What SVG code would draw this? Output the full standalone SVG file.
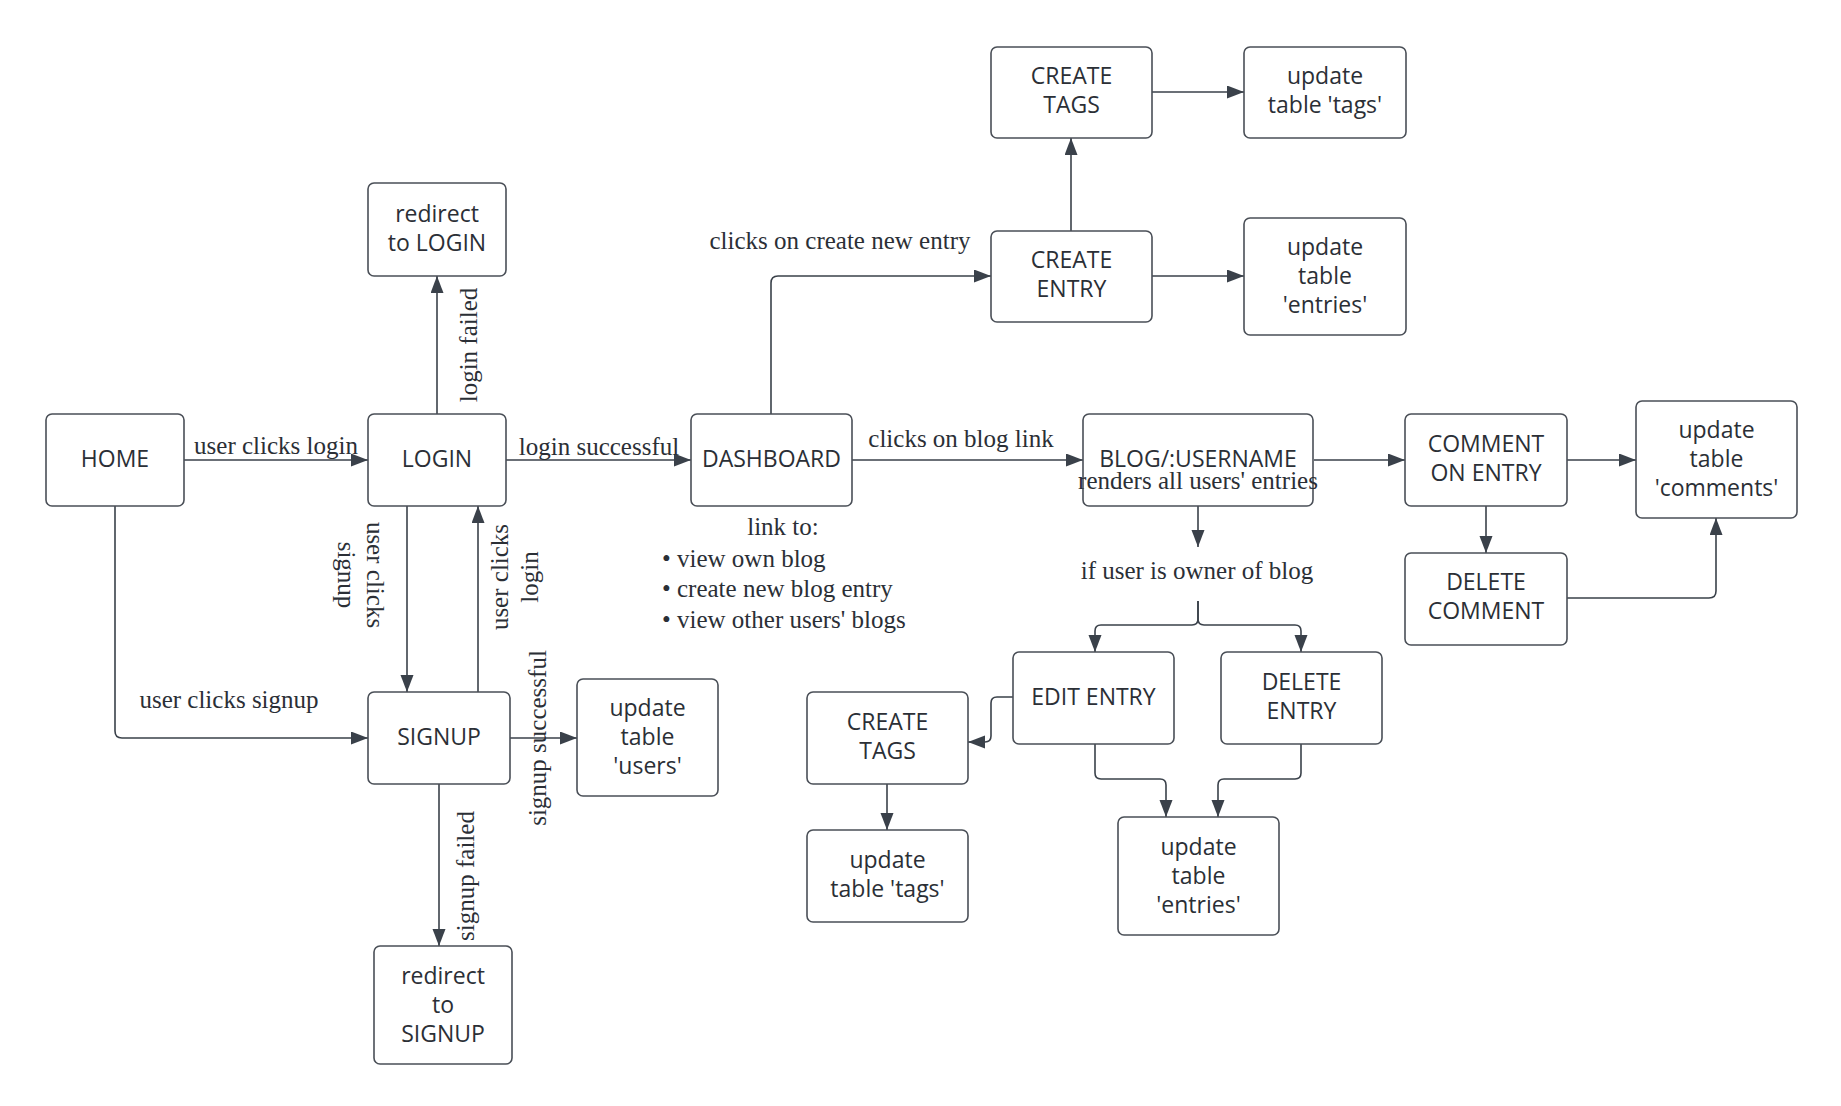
<svg xmlns="http://www.w3.org/2000/svg" width="1841" height="1106" viewBox="0 0 1841 1106">
<style>
.box{fill:#ffffff;stroke:#4a4f57;stroke-width:1.6}
.nt{font-family:"Open Sans","Noto Sans",sans-serif;font-size:23px;fill:#2b2f36;text-anchor:middle}
.lb{font-family:"Liberation Serif","Times New Roman",serif;font-size:25px;fill:#2b2f36}
.mid{text-anchor:middle}
.ln{fill:none;stroke:#3a414a;stroke-width:1.6}
.ar{marker-end:url(#ah)}
</style>
<defs>
<marker id="ah" markerUnits="userSpaceOnUse" markerWidth="18" markerHeight="14" refX="17" refY="6.5" orient="auto">
<path d="M0,0 L17,6.5 L0,13 z" fill="#3a414a"/>
</marker>
</defs>
<rect width="1841" height="1106" fill="#ffffff"/>

<g id="connectors">
<path class="ln ar" d="M184,460 H368"/>
<path class="ln ar" d="M437,414 V276"/>
<path class="ln ar" d="M506,460 H691"/>
<path class="ln ar" d="M407,506 V692"/>
<path class="ln ar" d="M478,692 V506"/>
<path class="ln ar" d="M115,506 V731 Q115,738 122,738 H368"/>
<path class="ln ar" d="M510,738 H577"/>
<path class="ln ar" d="M439,784 V946"/>
<path class="ln ar" d="M852,460 H1083"/>
<path class="ln ar" d="M771,414 V283 Q771,276 778,276 H991"/>
<path class="ln ar" d="M1071,231 V138"/>
<path class="ln ar" d="M1152,92 H1244"/>
<path class="ln ar" d="M1152,276 H1244"/>
<path class="ln ar" d="M1314,460 H1405"/>
<path class="ln ar" d="M1567,460 H1636"/>
<path class="ln ar" d="M1486,506 V553"/>
<path class="ln ar" d="M1567,598 H1709 Q1716,598 1716,591 V518"/>
<path class="ln ar" d="M1198,506 V547"/>
<path class="ln ar" d="M1198,601 V619 Q1198,625 1192,625 H1101 Q1095,625 1095,631 V652"/>
<path class="ln ar" d="M1198,601 V619 Q1198,625 1204,625 H1295 Q1301,625 1301,631 V652"/>
<path class="ln ar" d="M1013,697 H997 Q991,697 991,703 V736 Q991,742 985,742 H968"/>
<path class="ln ar" d="M887,784 V830"/>
<path class="ln ar" d="M1095,744 V773 Q1095,779 1101,779 H1160 Q1166,779 1166,785 V817"/>
<path class="ln ar" d="M1301,744 V773 Q1301,779 1295,779 H1224 Q1218,779 1218,785 V817"/>
</g>

<g id="edge-labels">
<text class="lb mid" x="276" y="454">user clicks login</text>
<text class="lb mid" x="599" y="455">login successful</text>
<text class="lb mid" x="961" y="447">clicks on blog link</text>
<text class="lb mid" x="840" y="249">clicks on create new entry</text>
<text class="lb mid" x="229" y="708">user clicks signup</text>
<text class="lb mid" transform="translate(477,345) rotate(-90)">login failed</text>
<text class="lb mid" transform="translate(474,876) rotate(-90)">signup failed</text>
<text class="lb mid" transform="translate(546,738) rotate(-90)">signup successful</text>
<text class="lb mid" transform="translate(508,577) rotate(-90)"><tspan x="0" y="0">user clicks</tspan><tspan x="0" y="30">login</tspan></text>
<text class="lb mid" transform="translate(367,575) rotate(90)"><tspan x="0" y="0">user clicks</tspan><tspan x="0" y="29">signup</tspan></text>
<text class="lb mid" x="1197" y="579">if user is owner of blog</text>
</g>

<g id="dashboard-notes">
<text class="lb mid" x="783" y="535">link to:</text>
<text class="lb" x="662" y="567">•</text><text class="lb" x="677" y="567">view own blog</text>
<text class="lb" x="662" y="597">•</text><text class="lb" x="677" y="597">create new blog entry</text>
<text class="lb" x="662" y="628">•</text><text class="lb" x="677" y="628">view other users' blogs</text>
</g>

<g id="home"><rect class="box" x="46" y="414" width="138" height="92" rx="6"/><text class="nt" x="115" y="467">HOME</text></g>
<g id="login"><rect class="box" x="368" y="414" width="138" height="92" rx="6"/><text class="nt" x="437" y="467">LOGIN</text></g>
<g id="redirect-login"><rect class="box" x="368" y="183" width="138" height="93" rx="6"/><text class="nt" x="437" y="222">redirect</text><text class="nt" x="437" y="251">to LOGIN</text></g>
<g id="dashboard"><rect class="box" x="691" y="414" width="161" height="92" rx="6"/><text class="nt" x="771.5" y="467">DASHBOARD</text></g>
<g id="blog"><rect class="box" x="1083" y="414" width="230" height="92" rx="6"/><text class="nt" x="1198" y="467">BLOG/:USERNAME</text><text class="lb mid" x="1198" y="489">renders all users' entries</text></g>
<g id="comment-entry"><rect class="box" x="1405" y="414" width="162" height="92" rx="6"/><text class="nt" x="1486" y="452">COMMENT</text><text class="nt" x="1486" y="481">ON ENTRY</text></g>
<g id="update-comments"><rect class="box" x="1636" y="401" width="161" height="117" rx="6"/><text class="nt" x="1716.5" y="438">update</text><text class="nt" x="1716.5" y="467">table</text><text class="nt" x="1716.5" y="496">'comments'</text></g>
<g id="delete-comment"><rect class="box" x="1405" y="553" width="162" height="92" rx="6"/><text class="nt" x="1486" y="590">DELETE</text><text class="nt" x="1486" y="619">COMMENT</text></g>
<g id="create-tags-top"><rect class="box" x="991" y="47" width="161" height="91" rx="6"/><text class="nt" x="1071.5" y="84">CREATE</text><text class="nt" x="1071.5" y="113">TAGS</text></g>
<g id="update-tags-top"><rect class="box" x="1244" y="47" width="162" height="91" rx="6"/><text class="nt" x="1325" y="84">update</text><text class="nt" x="1325" y="113">table 'tags'</text></g>
<g id="create-entry"><rect class="box" x="991" y="231" width="161" height="91" rx="6"/><text class="nt" x="1071.5" y="268">CREATE</text><text class="nt" x="1071.5" y="297">ENTRY</text></g>
<g id="update-entries-top"><rect class="box" x="1244" y="218" width="162" height="117" rx="6"/><text class="nt" x="1325" y="255">update</text><text class="nt" x="1325" y="284">table</text><text class="nt" x="1325" y="313">'entries'</text></g>
<g id="signup"><rect class="box" x="368" y="692" width="142" height="92" rx="6"/><text class="nt" x="439" y="745">SIGNUP</text></g>
<g id="update-users"><rect class="box" x="577" y="679" width="141" height="117" rx="6"/><text class="nt" x="647.5" y="716">update</text><text class="nt" x="647.5" y="745">table</text><text class="nt" x="647.5" y="774">'users'</text></g>
<g id="redirect-signup"><rect class="box" x="374" y="946" width="138" height="118" rx="6"/><text class="nt" x="443" y="984">redirect</text><text class="nt" x="443" y="1013">to</text><text class="nt" x="443" y="1042">SIGNUP</text></g>
<g id="edit-entry"><rect class="box" x="1013" y="652" width="161" height="92" rx="6"/><text class="nt" x="1093.5" y="705">EDIT ENTRY</text></g>
<g id="delete-entry"><rect class="box" x="1221" y="652" width="161" height="92" rx="6"/><text class="nt" x="1301.5" y="690">DELETE</text><text class="nt" x="1301.5" y="719">ENTRY</text></g>
<g id="create-tags-low"><rect class="box" x="807" y="692" width="161" height="92" rx="6"/><text class="nt" x="887.5" y="730">CREATE</text><text class="nt" x="887.5" y="759">TAGS</text></g>
<g id="update-tags-low"><rect class="box" x="807" y="830" width="161" height="92" rx="6"/><text class="nt" x="887.5" y="868">update</text><text class="nt" x="887.5" y="897">table 'tags'</text></g>
<g id="update-entries-low"><rect class="box" x="1118" y="817" width="161" height="118" rx="6"/><text class="nt" x="1198.5" y="855">update</text><text class="nt" x="1198.5" y="884">table</text><text class="nt" x="1198.5" y="913">'entries'</text></g>
</svg>
